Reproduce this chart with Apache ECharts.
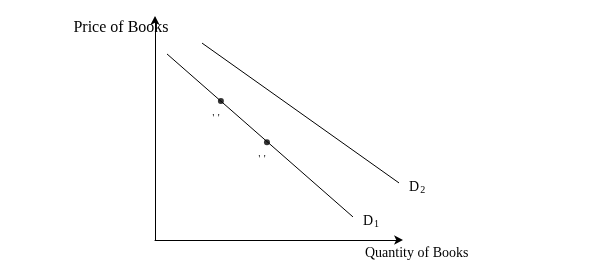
<!DOCTYPE html>
<html><head><meta charset="utf-8">
<script src="https://cdn.jsdelivr.net/npm/echarts@6/dist/echarts.min.js"></script>
<style>html,body{margin:0;padding:0;background:#fff}#c{width:600px;height:272px}</style>
</head><body><div id="c"></div>
<script>
// Demand curves in axis units (0-100 on each axis)
const d1X = [4.9, 80.8];
const d1Y = [83.8, 10.4];
const d2X = [19.2, 99.6];
const d2Y = [88.7, 25.7];
const pointX = [26.9, 45.7];
const pointY = [62.6, 44.0];
const pointLabels = ["' '", "' '"];
const curveNames = ['D1', 'D2'];
const xTitle = 'Quantity of Books';
const yTitle = 'Price of Books';

const font = 'Liberation Serif, Times New Roman, serif';
const pair = (xs, ys) => xs.map((x, i) => [x, ys[i]]);
const endLabel = name => ({
  show: true, distance: 10, offset: [0, 4],
  formatter: '{a|D}{b|' + name.slice(1) + '}',
  rich: {
    a: {fontFamily: font, fontSize: 14, color: '#000'},
    b: {fontFamily: font, fontSize: 10, color: '#000', padding: [7, 0, 0, 1]}
  }
});

const chart = echarts.init(document.getElementById('c'), null, {renderer: 'canvas'});
chart.setOption({
  animation: false,
  grid: {left: 155, right: 200, top: 18, bottom: 32},
  xAxis: {
    type: 'value', min: 0, max: 100,
    axisLine: {show: true, lineStyle: {color: '#000', width: 1}, symbol: ['none', 'arrow'], symbolSize: [7, 9], symbolOffset: [0, 3]},
    axisTick: {show: false}, axisLabel: {show: false}, splitLine: {show: false},
    name: xTitle, nameLocation: 'end', nameGap: -35,
    nameTextStyle: {fontFamily: font, fontSize: 14, color: '#000', align: 'left', verticalAlign: 'top', padding: [6, 0, 0, 0]}
  },
  yAxis: {
    type: 'value', min: 0, max: 100,
    axisLine: {show: true, lineStyle: {color: '#000', width: 1}, symbol: ['none', 'arrow'], symbolSize: [7, 9], symbolOffset: [0, 2]},
    axisTick: {show: false}, axisLabel: {show: false}, splitLine: {show: false},
    name: yTitle, nameLocation: 'end', nameGap: -18,
    nameTextStyle: {fontFamily: font, fontSize: 16, color: '#000', align: 'center', verticalAlign: 'bottom', padding: [0, 0, 0, -68]}
  },
  series: [
    {type: 'line', data: pair(d1X, d1Y), symbol: 'none', lineStyle: {color: '#000', width: 1}, silent: true, endLabel: endLabel(curveNames[0])},
    {type: 'line', data: pair(d2X, d2Y), symbol: 'none', lineStyle: {color: '#000', width: 1}, silent: true, endLabel: endLabel(curveNames[1])},
    {type: 'scatter', data: pair(pointX, pointY), symbolSize: 6, itemStyle: {color: '#000'},
     label: {show: true, position: 'bottom', offset: [-5, 5], distance: 4,
       formatter: p => pointLabels[p.dataIndex], fontFamily: font, fontSize: 10, fontWeight: 'bold', color: '#000'}}
  ]
});
</script></body></html>
